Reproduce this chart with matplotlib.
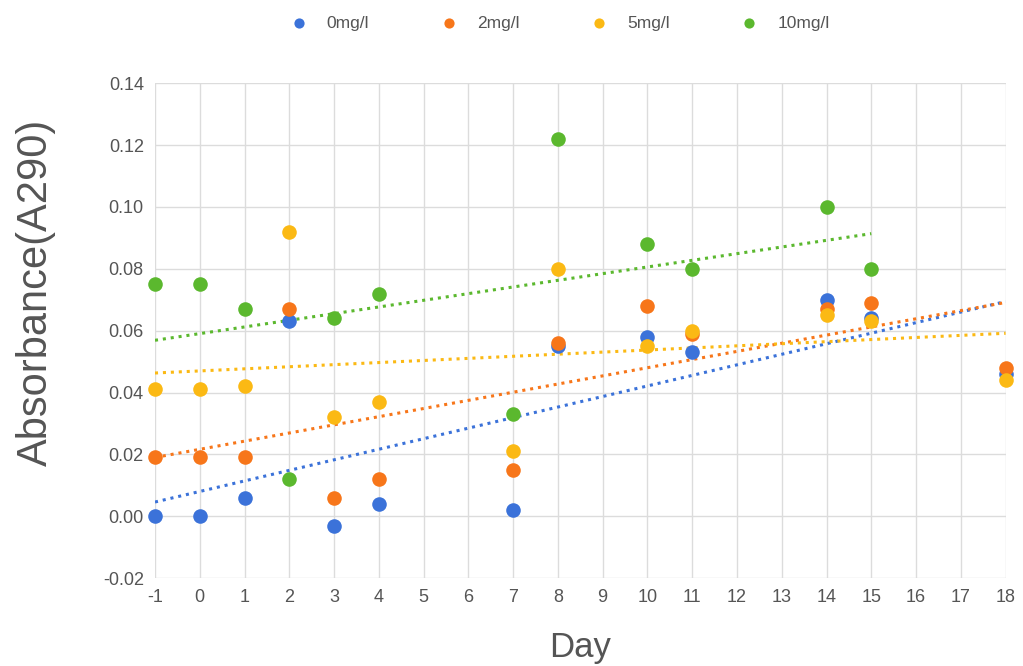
import numpy as np
import matplotlib.pyplot as plt

plt.rcParams['font.family'] = ['Liberation Sans', 'DejaVu Sans']
plt.rcParams['axes.unicode_minus'] = False

days_all = [-1, 0, 1, 2, 3, 4, 7, 8, 10, 11, 14, 15, 18]
days_green = [-1, 0, 1, 2, 3, 4, 7, 8, 10, 11, 14, 15]

abs_0 = [0.000, 0.000, 0.006, 0.063, -0.003, 0.004, 0.002, 0.055, 0.058, 0.053, 0.070, 0.064, 0.046]
abs_2 = [0.019, 0.019, 0.019, 0.067, 0.006, 0.012, 0.015, 0.056, 0.068, 0.059, 0.067, 0.069, 0.048]
abs_5 = [0.041, 0.041, 0.042, 0.092, 0.032, 0.037, 0.021, 0.080, 0.055, 0.060, 0.065, 0.063, 0.044]
abs_10 = [0.075, 0.075, 0.067, 0.012, 0.064, 0.072, 0.033, 0.122, 0.088, 0.080, 0.100, 0.080]

labels = ['0mg/l', '2mg/l', '5mg/l', '10mg/l']
colors = ['#3b72d9', '#f7761a', '#fbb914', '#5bb82e']
series = [(days_all, abs_0), (days_all, abs_2), (days_all, abs_5), (days_green, abs_10)]

fig = plt.figure(figsize=(10.23, 6.66), dpi=100)
ax = fig.add_axes([0.1515, 0.132, 0.8315, 0.743])

handles = []
for (x, y), lab, c in zip(series, labels, colors):
    h = ax.scatter(x, y, s=110, color=c, label=lab, zorder=3, linewidths=0, clip_on=False)
    handles.append(h)
    # linear trend line
    k, b = np.polyfit(x, y, 1)
    xs = np.array([min(x), max(x)])
    ax.plot(xs, k * xs + b, color=c, lw=2.2, linestyle=(0, (1, 1.6)), zorder=2)

ax.set_xlim(-1, 18)
ax.set_ylim(-0.02, 0.14)
ax.set_xticks(range(-1, 19))
ax.set_yticks(np.arange(-0.02, 0.141, 0.02))
ax.yaxis.set_major_formatter(plt.FuncFormatter(lambda v, p: '%.2f' % v if abs(v) > 1e-9 else '0.00'))
ax.grid(True, color='#dcdcdc', lw=1)
ax.set_axisbelow(True)
for s in ax.spines.values():
    s.set_visible(False)
ax.tick_params(length=0, labelsize=13, labelcolor='#555555', pad=8)

ax.set_xlabel('Day', fontsize=25, color='#555555', labelpad=18)
ax.set_ylabel('Absorbance(A290)', fontsize=30, color='#555555')
ax.yaxis.set_label_coords(-0.116, 0.578)

fig.legend(handles=handles, labels=labels, loc='center', bbox_to_anchor=(0.543, 0.965),
           ncol=4, frameon=False, fontsize=12.5, labelcolor='#555555',
           handletextpad=0.6, columnspacing=3.6, markerscale=0.7)

fig.savefig('out.png', dpi=100)
